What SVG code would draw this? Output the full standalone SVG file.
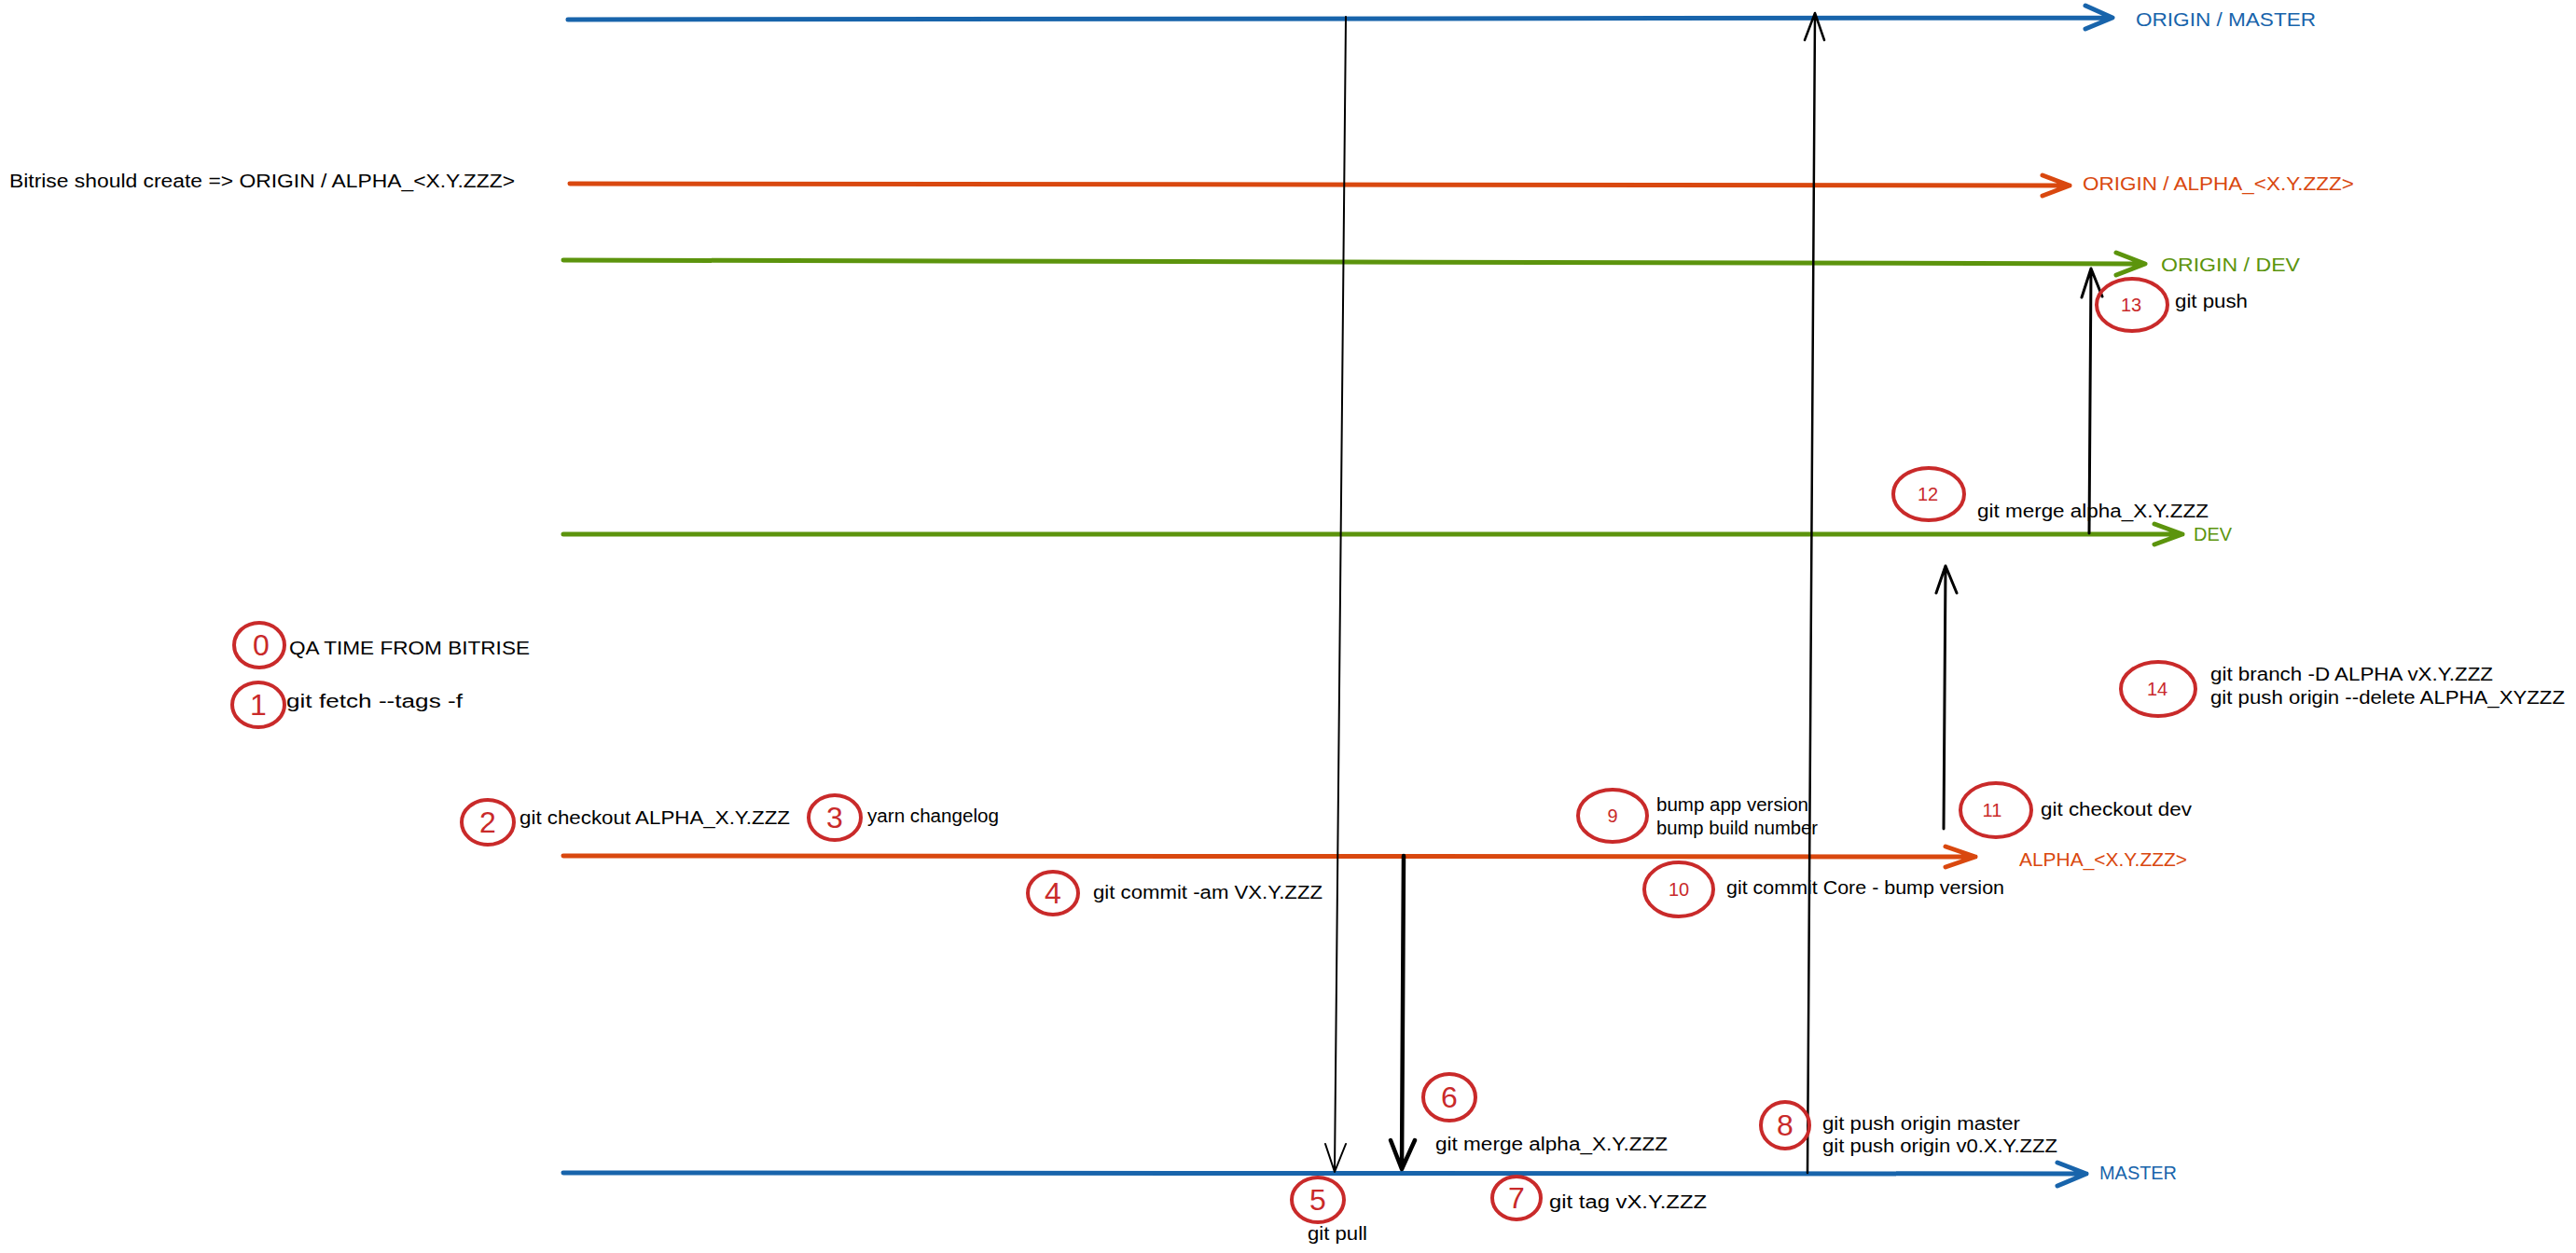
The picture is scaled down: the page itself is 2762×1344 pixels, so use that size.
<svg xmlns="http://www.w3.org/2000/svg" width="2762" height="1344" viewBox="0 0 2762 1344">
<style>
  text { font-family: "Liberation Sans", "DejaVu Sans", sans-serif; font-size: 20px; fill: #000000; }
  .blue { fill: #1864ab; }
  .orange { fill: #d9480f; }
  .green { fill: #5c940d; }
  .num { fill: #c92a2a; text-anchor: middle; }
  .big { font-size: 32px; }
  .br { fill: none; stroke-width: 5; stroke-linecap: round; stroke-linejoin: round; }
  .sb { stroke: #1864ab; }
  .so { stroke: #d9480f; }
  .sg { stroke: #5c940d; }
  .arr { fill: none; stroke: #000000; stroke-linecap: round; stroke-linejoin: round; }
  .circ { fill: none; stroke: #c92a2a; stroke-width: 4; }
</style>
<rect width="2762" height="1344" fill="#ffffff"/>

<g id="connectors">
  <!-- branch lines -->
  <path class="br sb" d="M609,21 L2265,19 M2236,6 L2265,19 L2236,31"/>
  <path class="br so" d="M611,197 L2219,199 M2190,188 L2219,199 L2190,210"/>
  <path class="br sg" d="M604,279 L2300,283 M2269,271 L2300,283 L2269,295"/>
  <path class="br sg" d="M604,573 L2340,573 M2310,562 L2340,573 L2310,584"/>
  <path class="br so" d="M604,918 L2118,919 M2086,908 L2118,919 L2086,930"/>
  <path class="br sb" d="M604,1258 L2237,1259 M2206,1247 L2237,1259 L2206,1272"/>
  <!-- black arrows -->
  <path class="arr" stroke-width="2" d="M1443,18 L1431,1257 M1421,1227 L1431,1257 L1443,1227"/>
  <path class="arr" stroke-width="4.5" d="M1505,918 L1503,1254 M1491,1223 L1503,1254 L1517,1223"/>
  <path class="arr" stroke-width="2.5" d="M1938,1258 L1946,14 M1935,43 L1946,14 L1956,43"/>
  <path class="arr" stroke-width="3" d="M2084,889 L2086,607 M2076,636 L2086,607 L2098,636"/>
  <path class="arr" stroke-width="3" d="M2240,572 L2242,288 M2232,319 L2242,288 L2254,318"/>
</g>

<g id="branch-labels">
  <text class="blue" x="2290" y="28" textLength="193" lengthAdjust="spacingAndGlyphs">ORIGIN / MASTER</text>
  <text class="orange" x="2233" y="204" textLength="291" lengthAdjust="spacingAndGlyphs">ORIGIN / ALPHA_&lt;X.Y.ZZZ&gt;</text>
  <text class="green" x="2317" y="291" textLength="149" lengthAdjust="spacingAndGlyphs">ORIGIN / DEV</text>
  <text class="green" x="2352" y="580" textLength="41" lengthAdjust="spacingAndGlyphs">DEV</text>
  <text class="orange" x="2165" y="929" textLength="180" lengthAdjust="spacingAndGlyphs">ALPHA_&lt;X.Y.ZZZ&gt;</text>
  <text class="blue" x="2251" y="1265" textLength="83" lengthAdjust="spacingAndGlyphs">MASTER</text>
</g>

<g id="note-bitrise">
  <text x="10" y="201" textLength="542" lengthAdjust="spacingAndGlyphs">Bitrise should create =&gt; ORIGIN / ALPHA_&lt;X.Y.ZZZ&gt;</text>
</g>

<g id="step-0">
  <ellipse class="circ" cx="278" cy="692" rx="27" ry="24"/>
  <text class="num big" x="280" y="703">0</text>
  <text x="310" y="702" textLength="258" lengthAdjust="spacingAndGlyphs">QA TIME FROM BITRISE</text>
</g>
<g id="step-1">
  <ellipse class="circ" cx="277" cy="756" rx="28" ry="24"/>
  <text class="num big" x="277" y="767">1</text>
  <text x="307" y="759" textLength="189" lengthAdjust="spacingAndGlyphs">git fetch --tags -f</text>
</g>
<g id="step-2">
  <ellipse class="circ" cx="523" cy="882" rx="28" ry="24"/>
  <text class="num big" x="523" y="893">2</text>
  <text x="557" y="884" textLength="290" lengthAdjust="spacingAndGlyphs">git checkout ALPHA_X.Y.ZZZ</text>
</g>
<g id="step-3">
  <ellipse class="circ" cx="895" cy="877" rx="28" ry="24"/>
  <text class="num big" x="895" y="888">3</text>
  <text x="930" y="882" textLength="141" lengthAdjust="spacingAndGlyphs">yarn changelog</text>
</g>
<g id="step-4">
  <ellipse class="circ" cx="1129" cy="958" rx="27" ry="23"/>
  <text class="num big" x="1129" y="969">4</text>
  <text x="1172" y="964" textLength="246" lengthAdjust="spacingAndGlyphs">git commit -am VX.Y.ZZZ</text>
</g>
<g id="step-5">
  <ellipse class="circ" cx="1413" cy="1287" rx="28" ry="24"/>
  <text class="num big" x="1413" y="1298">5</text>
  <text x="1402" y="1330" textLength="64" lengthAdjust="spacingAndGlyphs">git pull</text>
</g>
<g id="step-6">
  <ellipse class="circ" cx="1554" cy="1177" rx="28" ry="25"/>
  <text class="num big" x="1554" y="1188">6</text>
  <text x="1539" y="1234" textLength="249" lengthAdjust="spacingAndGlyphs">git merge alpha_X.Y.ZZZ</text>
</g>
<g id="step-7">
  <ellipse class="circ" cx="1626" cy="1285" rx="26" ry="23"/>
  <text class="num big" x="1626" y="1296">7</text>
  <text x="1661" y="1296" textLength="169" lengthAdjust="spacingAndGlyphs">git tag vX.Y.ZZZ</text>
</g>
<g id="step-8">
  <ellipse class="circ" cx="1914" cy="1207" rx="26" ry="25"/>
  <text class="num big" x="1914" y="1218">8</text>
  <text x="1954" y="1212" textLength="212" lengthAdjust="spacingAndGlyphs">git push origin master</text>
  <text x="1954" y="1236" textLength="252" lengthAdjust="spacingAndGlyphs">git push origin v0.X.Y.ZZZ</text>
</g>
<g id="step-9">
  <ellipse class="circ" cx="1729" cy="875" rx="37" ry="28" stroke-width="3.5"/>
  <text class="num" x="1729" y="882">9</text>
  <text x="1776" y="870" textLength="163" lengthAdjust="spacingAndGlyphs">bump app version</text>
  <text x="1776" y="895" textLength="173" lengthAdjust="spacingAndGlyphs">bump build number</text>
</g>
<g id="step-10">
  <ellipse class="circ" cx="1800" cy="954" rx="37" ry="29" stroke-width="3.5"/>
  <text class="num" x="1800" y="961">10</text>
  <text x="1851" y="959" textLength="298" lengthAdjust="spacingAndGlyphs">git commit Core - bump version</text>
</g>
<g id="step-11">
  <ellipse class="circ" cx="2140" cy="869" rx="38" ry="29" stroke-width="3.5"/>
  <text class="num" x="2136" y="876">11</text>
  <text x="2188" y="875" textLength="162" lengthAdjust="spacingAndGlyphs">git checkout dev</text>
</g>
<g id="step-12">
  <ellipse class="circ" cx="2068" cy="530" rx="38" ry="28" stroke-width="3.5"/>
  <text class="num" x="2067" y="537">12</text>
  <text x="2120" y="555" textLength="248" lengthAdjust="spacingAndGlyphs">git merge alpha_X.Y.ZZZ</text>
</g>
<g id="step-13">
  <ellipse class="circ" cx="2286" cy="327" rx="38" ry="28" stroke-width="3.5"/>
  <text class="num" x="2285" y="334">13</text>
  <text x="2332" y="330" textLength="78" lengthAdjust="spacingAndGlyphs">git push</text>
</g>
<g id="step-14">
  <ellipse class="circ" cx="2314" cy="739" rx="40" ry="29" stroke-width="3.5"/>
  <text class="num" x="2313" y="746">14</text>
  <text x="2370" y="730" textLength="303" lengthAdjust="spacingAndGlyphs">git branch -D ALPHA vX.Y.ZZZ</text>
  <text x="2370" y="755" textLength="380" lengthAdjust="spacingAndGlyphs">git push origin --delete ALPHA_XYZZZ</text>
</g>
</svg>
